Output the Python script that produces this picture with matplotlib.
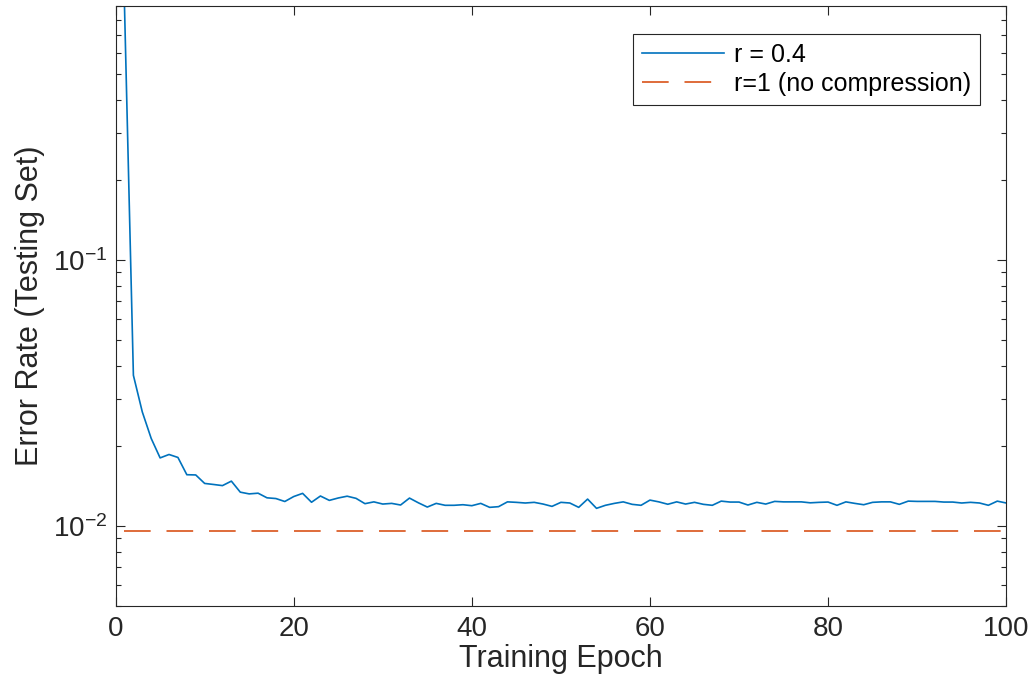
import numpy as np
import matplotlib
matplotlib.use("Agg")
import matplotlib.pyplot as plt
from matplotlib.ticker import LogLocator, NullFormatter

plt.rcParams["font.family"] = ["Liberation Sans", "DejaVu Sans"]
plt.rcParams["axes.unicode_minus"] = False
plt.rcParams["mathtext.fontset"] = "custom"
plt.rcParams["mathtext.rm"] = "Liberation Sans"

# values
epochs = np.arange(1, 101)
err_r04 = [
    0.9, 0.0368, 0.0268, 0.0213, 0.0180, 0.01854, 0.01807, 0.01556, 0.01553, 0.01443,
    0.0143, 0.01416, 0.01472, 0.01338, 0.01318, 0.01326, 0.01274, 0.01266, 0.01234, 0.01288,
    0.01324, 0.01226, 0.01294, 0.01246, 0.01272, 0.01292, 0.01268, 0.01211, 0.0123, 0.01207,
    0.01214, 0.01197, 0.01271, 0.0122, 0.01176, 0.01214, 0.01194, 0.01194, 0.012, 0.0119,
    0.01214, 0.01173, 0.0118, 0.0123, 0.01225, 0.01218, 0.01225, 0.01207, 0.01183, 0.01225,
    0.01218, 0.01173, 0.0126, 0.01163, 0.01194, 0.01214, 0.0123, 0.01204, 0.01194, 0.01249,
    0.0123, 0.01205, 0.0123, 0.01207, 0.01225, 0.01204, 0.01194, 0.01238, 0.01228, 0.01228,
    0.01197, 0.01225, 0.01207, 0.01235, 0.0123, 0.0123, 0.0123, 0.0122, 0.01225, 0.01228,
    0.01194, 0.0123, 0.01214, 0.012, 0.01225, 0.0123, 0.0123, 0.01204, 0.01238, 0.01235,
    0.01235, 0.01235, 0.01228, 0.01228, 0.01218, 0.01225, 0.01218, 0.01194, 0.01238, 0.01218,
]
err_full = 0.00958
series_labels = ["r = 0.4", "r=1 (no compression)"]

fig = plt.figure(figsize=(10.32, 6.83), dpi=100)
ax = fig.add_axes([0.112, 0.113, 0.863, 0.878])

ax.plot(epochs, err_r04, color="#0072BD", lw=1.2, label=series_labels[0])
ax.plot(epochs, np.full(len(epochs), err_full), color="#D95319", lw=1.2,
        linestyle=(0, (16, 9.5)), label=series_labels[1])

ax.set_yscale("log")
ax.set_xlim(0, 100)
ax.set_ylim(0.005, 0.9)
ax.set_xticks([0, 20, 40, 60, 80, 100])
ax.yaxis.set_major_locator(LogLocator(base=10, numticks=10))
ax.yaxis.set_minor_locator(LogLocator(base=10, subs=np.arange(2, 10), numticks=20))
ax.yaxis.set_minor_formatter(NullFormatter())

ax.tick_params(which="both", direction="in", top=True, right=True,
               colors="#262626", labelsize=20, width=0.8)
ax.tick_params(which="major", length=6.5)
ax.tick_params(which="minor", length=3.6)
ax.tick_params(axis="x", pad=7)
ax.tick_params(axis="y", pad=6)
for s in ax.spines.values():
    s.set_color("#262626")
    s.set_linewidth(0.8)

ax.set_xlabel("Training Epoch", fontsize=22, color="#262626", labelpad=2)
ax.set_ylabel("Error Rate (Testing Set)", fontsize=22, color="#262626", labelpad=6)

leg = ax.legend(loc="upper right", bbox_to_anchor=(0.971, 0.953), borderaxespad=0,
                fontsize=18, fancybox=False, framealpha=1, edgecolor="#262626",
                handlelength=3.3, borderpad=0.35, labelspacing=0.2, handletextpad=0.4)
leg.get_frame().set_linewidth(0.8)

fig.savefig("out.png", dpi=100)
